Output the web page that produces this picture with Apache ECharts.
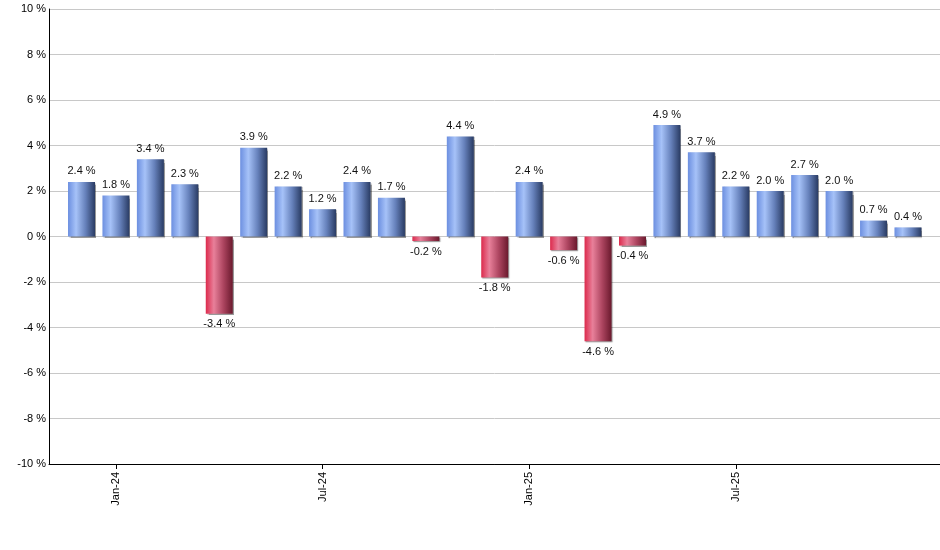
<!DOCTYPE html>
<html>
<head>
<meta charset="utf-8">
<script src="https://cdn.jsdelivr.net/npm/echarts@6/dist/echarts.min.js"></script>
<style>
html,body{margin:0;padding:0;background:#fff;}
#chart{width:940px;height:550px;}
</style>
</head>
<body>
<div id="chart"></div>
<script>
var months = ["Dec-23","Jan-24","Feb-24","Mar-24","Apr-24","May-24","Jun-24","Jul-24","Aug-24","Sep-24","Oct-24","Nov-24","Dec-24","Jan-25","Feb-25","Mar-25","Apr-25","May-25","Jun-25","Jul-25","Aug-25","Sep-25","Oct-25","Nov-25","Dec-25"];
var returns = [2.4,1.8,3.4,2.3,-3.4,3.9,2.2,1.2,2.4,1.7,-0.2,4.4,-1.8,2.4,-0.6,-4.6,-0.4,4.9,3.7,2.2,2.0,2.7,2.0,0.7,0.4];
var yTicks = [-10,-8,-6,-4,-2,0,2,4,6,8,10];

var FONT = '"Liberation Sans", Arial, sans-serif';

function grad(stops){
  return new echarts.graphic.LinearGradient(0,0,1,0,stops);
}
var blue = [
  {offset:0,color:'#6c8fe0'},
  {offset:0.3,color:'#a6c2f8'},
  {offset:0.65,color:'#6681bb'},
  {offset:1,color:'#293b63'}
];
var red = [
  {offset:0,color:'#dc2a4c'},
  {offset:0.3,color:'#e8809a'},
  {offset:0.65,color:'#ad4560'},
  {offset:1,color:'#6a192d'}
];

var barData = returns.map(function(v){
  var pos = v >= 0;
  return {
    value: v,
    itemStyle: {
      color: grad(pos ? blue : red),
      shadowColor: 'rgba(0,0,0,0.4)',
      shadowOffsetX: 1,
      shadowOffsetY: 1,
      shadowBlur: 1
    },
    label: {position: pos ? 'top' : 'bottom'}
  };
});

function isTickMonth(idx){
  var m = months[idx];
  return m.indexOf('Jan') === 0 || m.indexOf('Jul') === 0;
}

var chart = echarts.init(document.getElementById('chart'), null, {renderer:'canvas'});
chart.setOption({
  animation: false,
  backgroundColor: '#fff',
  grid: [
    {left: 49, right: 0, top: 9, bottom: 86, containLabel: false},
    {left: 64.3, right: 14.8, top: 9, bottom: 86, containLabel: false}
  ],
  xAxis: [
    {
      gridIndex: 0, type: 'value', min: 0, max: 1,
      axisLine: {show: true, onZero: false, lineStyle: {color: '#000', width: 1}},
      axisTick: {show: false}, axisLabel: {show: false}, splitLine: {show: false}
    },
    {
      gridIndex: 1, type: 'category', data: months,
      axisLine: {show: true, onZero: false, lineStyle: {color: '#000', width: 1}},
      axisTick: {show: true, alignWithLabel: true, length: 5,
        interval: function(i){ return isTickMonth(i); },
        lineStyle: {color: '#000', width: 1}},
      axisLabel: {
        interval: function(i){ return isTickMonth(i); },
        rotate: 90, margin: 8, fontSize: 11, color: '#000', fontFamily: FONT
      },
      splitLine: {show: false}
    }
  ],
  yAxis: [
    {
      gridIndex: 0, type: 'value', min: -10, max: 10, interval: 2,
      axisLine: {show: true, onZero: false, lineStyle: {color: '#000', width: 1}},
      axisTick: {show: false},
      axisLabel: {formatter: '{value} %', fontSize: 11, color: '#000', margin: 3, fontFamily: FONT},
      splitLine: {show: true, lineStyle: {color: '#c8c8c8', width: 1}}
    },
    {
      gridIndex: 1, type: 'value', min: -10, max: 10, interval: 2,
      axisLine: {show: false}, axisTick: {show: false}, axisLabel: {show: false},
      splitLine: {show: false}
    }
  ],
  series: [{
    type: 'bar',
    xAxisIndex: 1, yAxisIndex: 1,
    data: barData,
    barWidth: 27,
    label: {
      show: true, distance: 5, fontSize: 11, color: '#111', fontFamily: FONT,
      formatter: function(p){ return p.value.toFixed(1) + ' %'; }
    }
  }]
});
</script>
</body>
</html>
